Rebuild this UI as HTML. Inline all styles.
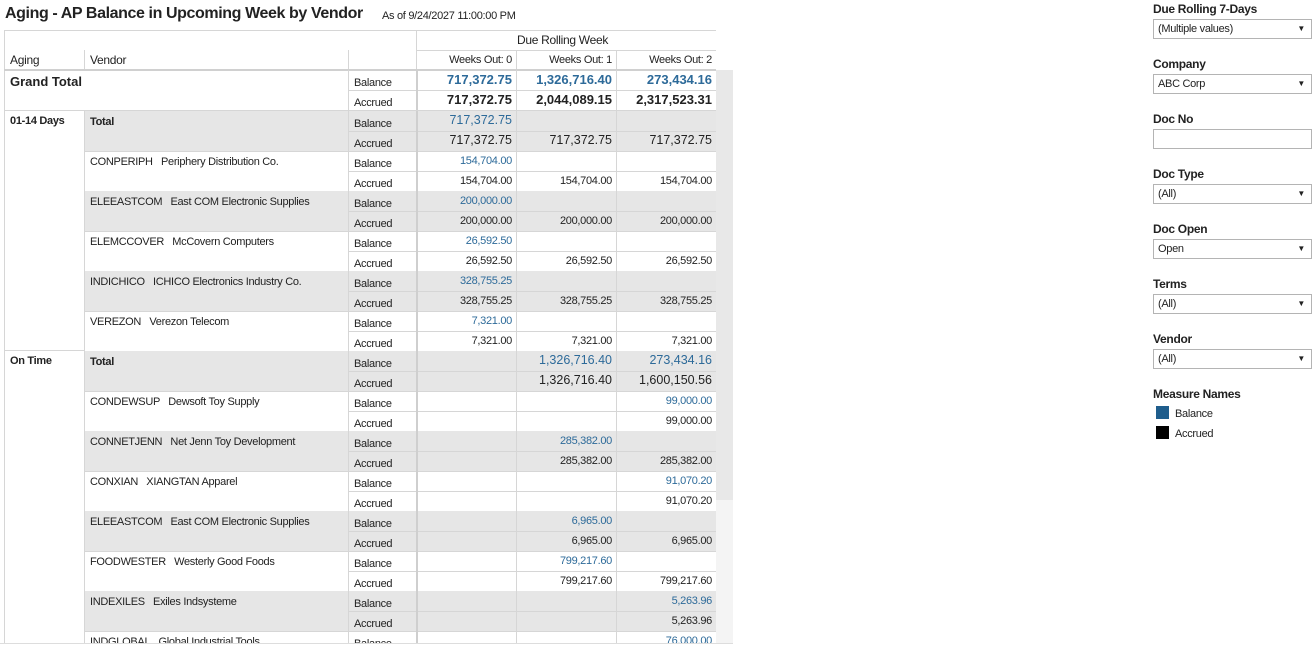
<!DOCTYPE html>
<html><head><meta charset="utf-8"><style>
body{margin:0;width:1313px;height:646px;background:#fff;font-family:"Liberation Sans",sans-serif;color:#222;position:relative;overflow:hidden}
.a{position:absolute;white-space:nowrap}
.t{font-size:11px;letter-spacing:-0.3px}
.r{text-align:right}
.b{color:#2d6a99}
.lab{font-size:12px;font-weight:bold;letter-spacing:-0.3px}
.dd{position:absolute;left:1153px;width:153px;height:18px;border:1px solid #b4b4b4;font-size:11px;line-height:18px;padding-left:4px;box-sizing:content-box;letter-spacing:-0.3px}
.dd .ar{position:absolute;right:6px;top:0;font-size:8px}
</style></head><body>
<div class="a" style="left:5px;top:5px;font-size:16px;font-weight:bold;letter-spacing:-0.4px">Aging - AP Balance in Upcoming Week by Vendor</div>
<div class="a t" style="left:382px;top:10px">As of 9/24/2027 11:00:00 PM</div>
<div class="a" style="left:716px;top:70px;width:17px;height:430px;background:#e8e8e8"></div>
<div class="a" style="left:716px;top:500px;width:17px;height:143px;background:#f4f4f4"></div>
<div id="tb" class="a" style="left:0;top:0;width:716px;height:643px;overflow:hidden"></div>
<div class="a" style="left:0;top:643px;width:733px;height:1px;background:#ddd"></div>

<div class="a lab" style="left:1153px;top:2px">Due Rolling 7-Days</div>
<div class="dd" style="top:19px">(Multiple values)<span class="ar">▼</span></div>
<div class="a lab" style="left:1153px;top:57px">Company</div>
<div class="dd" style="top:74px">ABC Corp<span class="ar">▼</span></div>
<div class="a lab" style="left:1153px;top:112px">Doc No</div>
<div class="dd" style="top:129px"></div>
<div class="a lab" style="left:1153px;top:167px">Doc Type</div>
<div class="dd" style="top:184px">(All)<span class="ar">▼</span></div>
<div class="a lab" style="left:1153px;top:222px">Doc Open</div>
<div class="dd" style="top:239px">Open<span class="ar">▼</span></div>
<div class="a lab" style="left:1153px;top:277px">Terms</div>
<div class="dd" style="top:294px">(All)<span class="ar">▼</span></div>
<div class="a lab" style="left:1153px;top:332px">Vendor</div>
<div class="dd" style="top:349px">(All)<span class="ar">▼</span></div>
<div class="a lab" style="left:1153px;top:387px">Measure Names</div>
<div class="a" style="left:1156px;top:406px;width:13px;height:13px;background:#1f5d8c"></div>
<div class="a t" style="left:1175px;top:408px">Balance</div>
<div class="a" style="left:1156px;top:426px;width:13px;height:13px;background:#000"></div>
<div class="a t" style="left:1175px;top:428px">Accrued</div>

<script>
var T=document.getElementById('tb'),h='';
function d(x,y,w,hh,s){h+='<div class="a" style="left:'+x+'px;top:'+y+'px;width:'+w+'px;height:'+hh+'px;'+s+'"></div>';}
function tx(x,y,s,c,st){h+='<div class="a '+(c||'t')+'" style="left:'+x+'px;top:'+y+'px;'+(st||'')+'">'+s+'</div>';}
function rt(xr,y,s,c,st){h+='<div class="a '+(c||'t')+'" style="left:'+(xr-120)+'px;width:120px;text-align:right;top:'+y+'px;'+(st||'')+'">'+s+'</div>';}
var L='#d6d6d6';
d(4,30,712,1,'background:'+L);d(416,30,1,40,'background:'+L);d(716,30,1,40,'background:'+L);
d(4,30,1,613,'background:'+L);
d(416,50,300,1,'background:'+L);d(516,50,1,20,'background:'+L);d(616,50,1,20,'background:'+L);
d(84,50,1,20,'background:'+L);d(348,50,1,20,'background:'+L);
d(4,69,712,2,'background:#d0d0d0');
tx(517,33,'Due Rolling Week','t','font-size:12px');
tx(10,53,'Aging','t','font-size:12px');tx(90,53,'Vendor','t','font-size:12px');
rt(512,54,'Weeks Out: 0');rt(612,54,'Weeks Out: 1');rt(712,54,'Weeks Out: 2');
var X=[512,612,712];
function grp(y,gray,label,bold,bal,acc,big){
 if(gray)d(84,y,632,40,'background:#e6e6e6');
 d(348,y+20,368,1,'background:'+L);
 d(84,y+40,632,1,'background:'+L);
 d(348,y,1,40,'background:'+L);d(416,y,2,40,'background:#cfcfcf');d(516,y,1,40,'background:'+L);d(616,y,1,40,'background:'+L);d(84,y,1,40,'background:'+L);
 tx(90,y+5,label,'t',bold?'font-weight:bold':'');
 tx(354,y+7,'Balance');tx(354,y+27,'Accrued');
 var st=big?'font-size:12.5px;letter-spacing:0':'';
 for(var i=0;i<3;i++){if(bal[i])rt(X[i],y+(big?2:4),bal[i],'t b',st);if(acc[i])rt(X[i],y+(big?22:24),acc[i],'t',st);}
}
d(348,90,368,1,'background:'+L);d(4,110,712,1,'background:'+L);d(348,70,1,40,'background:'+L);d(416,70,2,40,'background:#cfcfcf');d(516,70,1,40,'background:'+L);d(616,70,1,40,'background:'+L);
tx(10,74,'Grand Total','t','font-size:13px;font-weight:bold;letter-spacing:0');
tx(354,77,'Balance');tx(354,97,'Accrued');
var gb=['717,372.75','1,326,716.40','273,434.16'],ga=['717,372.75','2,044,089.15','2,317,523.31'];
for(var i=0;i<3;i++){rt(X[i],72,gb[i],'t b','font-size:13px;font-weight:bold;letter-spacing:0');rt(X[i],92,ga[i],'t','font-size:13px;font-weight:bold;letter-spacing:0');}
var y=111;
tx(10,115,'01-14 Days','t','font-weight:bold');
var g1=[['Total',1,['717,372.75'],['717,372.75','717,372.75','717,372.75'],1],
['CONPERIPH&nbsp;&nbsp; Periphery Distribution Co.',0,['154,704.00'],['154,704.00','154,704.00','154,704.00']],
['ELEEASTCOM&nbsp;&nbsp; East COM Electronic Supplies',0,['200,000.00'],['200,000.00','200,000.00','200,000.00']],
['ELEMCCOVER&nbsp;&nbsp; McCovern Computers',0,['26,592.50'],['26,592.50','26,592.50','26,592.50']],
['INDICHICO&nbsp;&nbsp; ICHICO Electronics Industry Co.',0,['328,755.25'],['328,755.25','328,755.25','328,755.25']],
['VEREZON&nbsp;&nbsp; Verezon Telecom',0,['7,321.00'],['7,321.00','7,321.00','7,321.00']]];
g1.forEach(function(g,k){grp(y,k%2==0,g[0],g[1],g[2],g[3],g[4]);y+=40;});
d(4,350,80,1,'background:'+L);
tx(10,355,'On Time','t','font-weight:bold');
var g2=[['Total',1,['','1,326,716.40','273,434.16'],['','1,326,716.40','1,600,150.56'],1],
['CONDEWSUP&nbsp;&nbsp; Dewsoft Toy Supply',0,['','','99,000.00'],['','','99,000.00']],
['CONNETJENN&nbsp;&nbsp; Net Jenn Toy Development',0,['','285,382.00'],['','285,382.00','285,382.00']],
['CONXIAN&nbsp;&nbsp; XIANGTAN Apparel',0,['','','91,070.20'],['','','91,070.20']],
['ELEEASTCOM&nbsp;&nbsp; East COM Electronic Supplies',0,['','6,965.00'],['','6,965.00','6,965.00']],
['FOODWESTER&nbsp;&nbsp; Westerly Good Foods',0,['','799,217.60'],['','799,217.60','799,217.60']],
['INDEXILES&nbsp;&nbsp; Exiles Indsysteme',0,['','','5,263.96'],['','','5,263.96']],
['INDGLOBAL&nbsp;&nbsp; Global Industrial Tools',0,['','','76,000.00'],['','','']]];
g2.forEach(function(g,k){grp(y,k%2==0,g[0],g[1],g[2],g[3],g[4]);y+=40;});
T.innerHTML=h;
</script>
</body></html>
